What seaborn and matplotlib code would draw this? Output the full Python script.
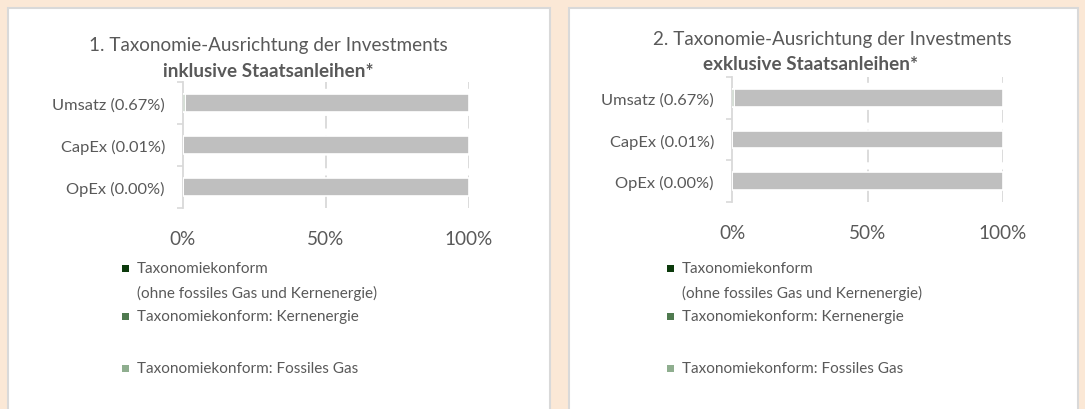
import matplotlib
matplotlib.use("Agg")
import matplotlib.pyplot as plt
import seaborn as sns
import pandas as pd
from matplotlib.patches import Rectangle

# data (both panels show the same values)
categories = ["Umsatz (0.67%)", "CapEx (0.01%)", "OpEx (0.00%)"]
taxonomy = [0.67, 0.01, 0.00]      # Taxonomiekonform (ohne fossiles Gas und Kernenergie)
nuclear = [0.0, 0.0, 0.0]          # Kernenergie
fossil_gas = [0.0, 0.0, 0.0]       # Fossiles Gas
other = [99.33, 99.99, 100.00]     # nicht taxonomiekonform
x_ticks = [0, 50, 100]
x_ticklabels = ["0%", "50%", "100%"]

titles = ["1. Taxonomie-Ausrichtung der Investments",
          "2. Taxonomie-Ausrichtung der Investments"]
subtitles = ["inklusive Staatsanleihen*", "exklusive Staatsanleihen*"]
legend_labels = ["Taxonomiekonform\n(ohne fossiles Gas und Kernenergie)",
                 "Taxonomiekonform: Kernenergie",
                 "Taxonomiekonform: Fossiles Gas"]

c_tax = "#0c3a0c"
c_nuc = "#4f7a4f"
c_gas = "#8fae8f"
c_other = "#bfbfbf"
legend_colors = [c_tax, c_nuc, c_gas]
text_col = "#595959"
grid_col = "#d9d9d9"
bg = "#fbe8d6"

sns.set_theme(style="white")
plt.rcParams["font.family"] = ["Lato", "DejaVu Sans"]

df = pd.DataFrame({"cat": categories, "tax": taxonomy, "nuc": nuclear,
                   "gas": fossil_gas, "other": other})
df["end_tax"] = df["tax"]
df["end_nuc"] = df["end_tax"] + df["nuc"]
df["end_gas"] = df["end_nuc"] + df["gas"]
df["end_all"] = df["end_gas"] + df["other"]

W, H = 1085, 410
fig = plt.figure(figsize=(W / 100, H / 100), dpi=100)
fig.patch.set_facecolor(bg)


def fx(px):
    return px / W


def fy(py):
    return 1 - py / H


# white panels
for x0, x1 in [(8, 550), (569, 1078)]:
    fig.add_artist(Rectangle((fx(x0), fy(430)), fx(x1 - x0), (430 - 9) / H,
                             facecolor="white", edgecolor="#d9d9d9",
                             linewidth=1.5, transform=fig.transFigure, zorder=0))

panels = [
    dict(ax=(183, 83, 469, 209), t1=(268, 45), t2=(268, 72), leg_x=(125, 137)),
    dict(ax=(732, 78, 1003, 203), t1=(832, 40), t2=(811, 64), leg_x=(670, 682)),
]
leg_rows = [269, 317, 369]
line_step = 24

for i, p in enumerate(panels):
    l, t, r, b = p["ax"]
    ax = fig.add_axes([fx(l), fy(b), fx(r - l), (b - t) / H])
    ax.set_facecolor("none")
    # stacked bars: draw cumulative ends from longest to shortest
    for col, color in [("end_all", c_other), ("end_gas", c_gas),
                       ("end_nuc", c_nuc), ("end_tax", c_tax)]:
        sns.barplot(data=df, x=col, y="cat", color=color, width=0.43,
                    edgecolor="white", linewidth=1.2, saturation=1, ax=ax, zorder=3)
    ax.set_xlim(0, 100)
    ax.set_ylim(2.5, -0.5)
    ax.set_xlabel("")
    ax.set_ylabel("")
    ax.set_xticks(x_ticks)
    ax.set_xticklabels(x_ticklabels)
    for v in x_ticks[1:]:
        ax.axvline(v, color=grid_col, linewidth=1.3, linestyle=(0, (7, 4)), zorder=1)
    for s in ["top", "right", "bottom"]:
        ax.spines[s].set_visible(False)
    ax.spines["left"].set_color(grid_col)
    ax.spines["left"].set_linewidth(1.3)
    ax.set_yticks([-0.5, 0.5, 1.5, 2.5], minor=True)
    ax.tick_params(axis="y", which="minor", left=True, length=4, width=1.2, color=grid_col)
    ax.tick_params(axis="y", which="major", left=False, length=0, pad=13,
                   labelsize=11.8, labelcolor=text_col)
    ax.tick_params(axis="x", bottom=False, length=0, pad=16, labelsize=13.6,
                   labelcolor=text_col)

    fig.text(fx(p["t1"][0]), fy(p["t1"][1]), titles[i], ha="center", va="center",
             fontsize=13.6, color=text_col)
    fig.text(fx(p["t2"][0]), fy(p["t2"][1]), subtitles[i], ha="center", va="center",
             fontsize=13.6, color=text_col, fontweight="bold")

    mx, tx = p["leg_x"]
    for row, lab, color in zip(leg_rows, legend_labels, legend_colors):
        fig.add_artist(Rectangle((fx(mx - 3.5), fy(row + 3.5)), fx(7), 7 / H,
                                 facecolor=color, edgecolor="none",
                                 transform=fig.transFigure))
        for k, line in enumerate(lab.split("\n")):
            fig.text(fx(tx), fy(row + k * line_step), line, ha="left", va="center",
                     fontsize=11, color=text_col)

fig.savefig("out.png", dpi=100, facecolor=bg)
